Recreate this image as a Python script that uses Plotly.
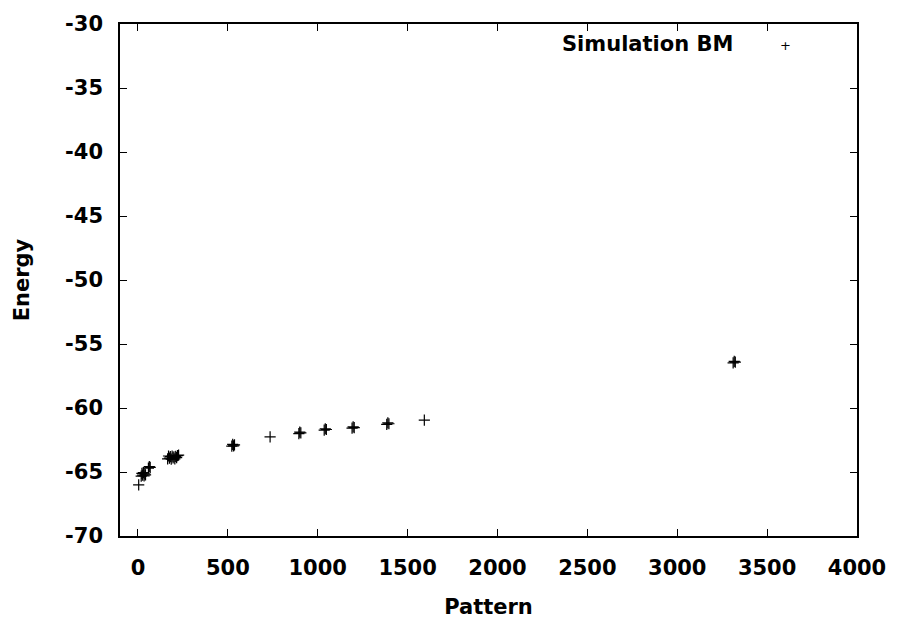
import plotly.graph_objects as go

# Data (Pattern vs Energy); bold/blob marks are several overlapping points
pattern = [4,
           18, 22, 26, 30, 34, 38, 42,
           58, 63, 68,
           165, 170, 175, 180, 185, 190, 195, 200, 205, 210, 215, 220, 226,
           522, 527, 532, 537,
           735,
           895, 900, 906,
           1036, 1042, 1048,
           1191, 1197, 1203,
           1384, 1390, 1396,
           1593,
           3311, 3317, 3323]
energy = [-66.0,
          -65.32, -65.10, -65.25, -65.05, -65.30, -65.15, -65.22,
          -64.70, -64.58, -64.64,
          -63.98, -63.75, -63.92, -63.80, -63.99, -63.76, -63.90, -63.82, -63.97, -63.78, -63.88, -63.72, -63.68,
          -62.98, -62.84, -62.96, -62.88,
          -62.25,
          -62.00, -61.88, -61.95,
          -61.73, -61.62, -61.68,
          -61.58, -61.47, -61.53,
          -61.28, -61.16, -61.23,
          -60.94,
          -56.47, -56.36, -56.42]

series_name = "Simulation BM"
x_ticks = [0, 500, 1000, 1500, 2000, 2500, 3000, 3500, 4000]
y_ticks = [-70, -65, -60, -55, -50, -45, -40, -35, -30]

FONT = "DejaVu Sans"
FS = 21

fig = go.Figure()
fig.add_trace(go.Scatter(
    x=pattern, y=energy, mode="markers", name=series_name,
    marker=dict(symbol="cross-thin", size=8, line=dict(width=1.2, color="black"), color="black"),
    showlegend=False,
))

axis_common = dict(
    showline=True, linecolor="black", linewidth=1.5, mirror="ticks",
    ticks="inside", ticklen=7, tickwidth=1.2, tickcolor="black",
    showgrid=False, zeroline=False,
    tickfont=dict(family=FONT, size=FS, color="black", weight="bold"),
)

fig.update_xaxes(range=[-100, 4000], tickvals=x_ticks, ticktext=[str(v) for v in x_ticks],
                 title=dict(text="Pattern", font=dict(family=FONT, size=FS, color="black", weight="bold"), standoff=20),
                 ticklabelstandoff=12, **axis_common)
fig.update_yaxes(range=[-70, -30], tickvals=y_ticks, ticktext=[str(v) for v in y_ticks],
                 title=dict(text="Energy", font=dict(family=FONT, size=FS, color="black", weight="bold"), standoff=30),
                 ticklabelstandoff=11, **axis_common)

# gnuplot-style key: text then sample symbol, top right
fig.add_annotation(xref="paper", yref="paper", x=0.835, y=0.96, xanchor="right", yanchor="middle",
                   text=series_name, showarrow=False,
                   font=dict(family=FONT, size=FS, color="black", weight="bold"))
fig.add_annotation(xref="paper", yref="paper", x=0.9026, y=0.958, xanchor="center", yanchor="middle",
                   text="+", showarrow=False, font=dict(family=FONT, size=13, color="black"))

fig.update_layout(
    width=898, height=627,
    margin=dict(l=120, r=39, t=20, b=86),
    paper_bgcolor="white", plot_bgcolor="white",
    font=dict(family=FONT, color="black"),
)

# remove the browser's default 8px body margin so the figure sits at the window origin
fig.write_html("out.html", config={"displayModeBar": False},
               post_script="document.body.style.margin='0';document.body.style.overflow='hidden';")
